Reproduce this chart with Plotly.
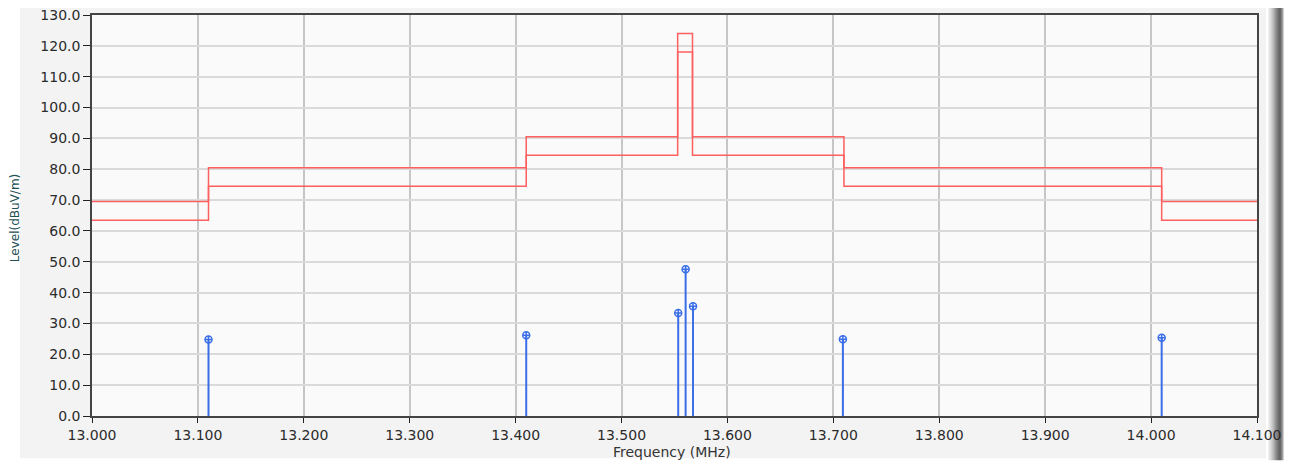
import plotly.graph_objects as go

# Limit-line step edges (MHz) and levels (dBuV/m)
limit_freq = [13.000, 13.110, 13.410, 13.553, 13.567, 13.710, 14.010, 14.100]
limit_upper = [69.5, 80.5, 90.5, 124.0, 90.5, 80.5, 69.5, 69.5]
limit_lower = [63.5, 74.5, 84.5, 118.0, 84.5, 74.5, 63.5, 63.5]

# Measured peaks
peak_freq = [13.110, 13.410, 13.5535, 13.5605, 13.5675, 13.709, 14.010]
peak_level = [24.8, 26.2, 33.4, 47.6, 35.6, 24.9, 25.4]

x_ticks = [13.0 + 0.1 * i for i in range(12)]
y_ticks = [10.0 * i for i in range(14)]

red = "#ff5f5f"
blue = "#3a6ee8"

fig = go.Figure()

fig.add_trace(go.Scatter(x=limit_freq, y=limit_upper, mode="lines", line=dict(color=red, width=1.5, shape="hv"), hoverinfo="skip"))
fig.add_trace(go.Scatter(x=limit_freq, y=limit_lower, mode="lines", line=dict(color=red, width=1.5, shape="hv"), hoverinfo="skip"))

stem_x, stem_y = [], []
for f, v in zip(peak_freq, peak_level):
    stem_x += [f, f, None]
    stem_y += [0, v, None]
fig.add_trace(go.Scatter(x=stem_x, y=stem_y, mode="lines", line=dict(color=blue, width=2), hoverinfo="skip"))
fig.add_trace(go.Scatter(x=peak_freq, y=peak_level, mode="markers",
                         marker=dict(symbol="circle-cross-open", size=7, color=blue, line=dict(width=1.5, color=blue))))

# page body has an 8px margin: work in reference coords, shift by O
O = 8
W, H = 1293 - O, 466 - O
pl, pr, pt, pb = 92 - O, 1257 - O, 15 - O, 415.7 - O
def px(x): return (x - O - pl) / (pr - pl)
def py(y): return (pb - (y - O)) / (pb - pt)

shapes = []
# white border strips around the grey panel
for (x0, x1, y0, y1) in [(0, 20, 0, 466), (0, 1293, 0, 7), (0, 1293, 458, 466), (1266, 1293, 0, 466)]:
    shapes.append(dict(type="rect", xref="paper", yref="paper", x0=px(x0), x1=px(x1), y0=py(y1), y1=py(y0),
                       fillcolor="#ffffff", line=dict(width=0), layer="below"))
bevel = ["#efefef", "#e6e6e6", "#dcdcdc", "#d0d0d0", "#c4c4c4", "#b6b6b6", "#a6a6a6", "#969696",
         "#888888", "#7a7a7a", "#6e6e6e", "#666666", "#6a6a6a", "#808080", "#a0a0a0", "#d0d0d0"]
for i, c in enumerate(bevel):
    shapes.append(dict(type="rect", xref="paper", yref="paper", x0=px(1268 + i), x1=px(1269 + i),
                       y0=py(460), y1=py(5), fillcolor=c, line=dict(width=0), layer="below"))

fig.update_layout(
    width=W, height=H,
    margin=dict(l=pl, r=W - pr, t=pt, b=H - pb, autoexpand=False),
    paper_bgcolor="#f3f3f3",
    plot_bgcolor="#fafafa",
    showlegend=False,
    font=dict(family="DejaVu Sans", color="#2b2b2b"),
    shapes=shapes,
    annotations=[
        dict(text="Level(dBuV/m)", xref="paper", yref="paper", x=px(15), y=py(218), textangle=-90,
             showarrow=False, font=dict(size=12, color="#1d4f55"), xanchor="center", yanchor="middle"),
        dict(text="Frequency (MHz)", xref="paper", yref="paper", x=px(672), y=py(452),
             showarrow=False, font=dict(size=14, color="#333333"), xanchor="center", yanchor="middle"),
    ],
)

fig.update_xaxes(range=[13.0, 14.1], tickvals=x_ticks, ticktext=[f"{v:.3f}" for v in x_ticks],
                 showgrid=True, gridcolor="#c6c6c6", gridwidth=2,
                 showline=True, linecolor="#444444", linewidth=1.5, mirror=True,
                 ticks="outside", ticklen=5, tickcolor="#222222", tickfont=dict(size=14),
                 ticklabeloverflow="allow", zeroline=False)
fig.update_yaxes(range=[0, 130], tickvals=y_ticks, ticktext=[f"{v:.1f}" for v in y_ticks],
                 showgrid=True, gridcolor="#dadada", gridwidth=1.5,
                 showline=True, linecolor="#444444", linewidth=1.5, mirror=True,
                 ticks="outside", ticklen=7, tickcolor="#222222", tickfont=dict(size=14),
                 ticklabeloverflow="allow", zeroline=False)

fig.write_html("out.html")
